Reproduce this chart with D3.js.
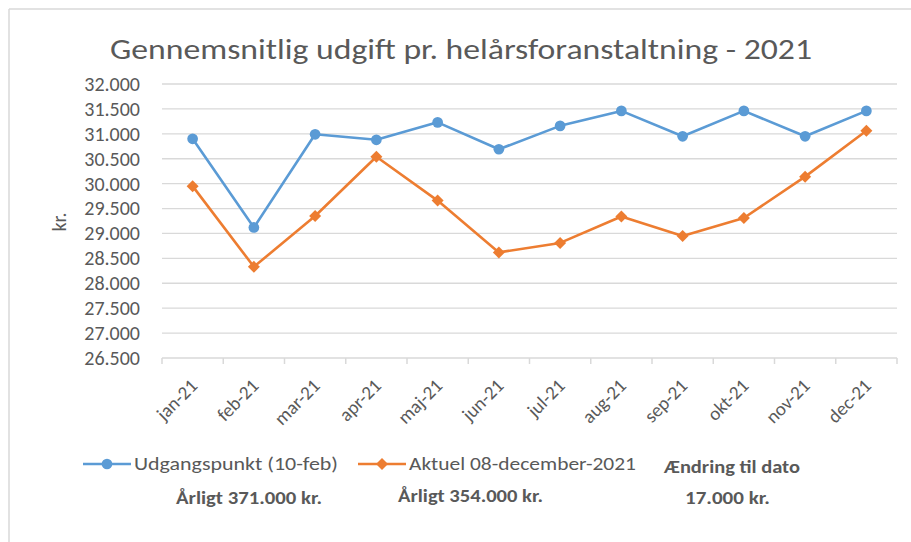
<!DOCTYPE html>
<html>
<head>
<meta charset="utf-8">
<script src="https://cdn.jsdelivr.net/npm/d3@7"></script>
<style>
  html, body { margin: 0; padding: 0; background: #fff; }
  svg { display: block; }
  text { font-family: Carlito, Lato, "Open Sans", sans-serif; }
</style>
</head>
<body>
<svg id="chart" width="911" height="542"></svg>
<script>
const months = ["jan-21","feb-21","mar-21","apr-21","maj-21","jun-21","jul-21","aug-21","sep-21","okt-21","nov-21","dec-21"];
const udgangspunkt = [30900, 29120, 30990, 30880, 31230, 30690, 31160, 31460, 30950, 31460, 30950, 31460];
const aktuel = [29950, 28330, 29350, 30540, 29660, 28620, 28810, 29340, 28950, 29310, 30140, 31060];
const yTicks = [26500, 27000, 27500, 28000, 28500, 29000, 29500, 30000, 30500, 31000, 31500, 32000];
const seriesNames = ["Udgangspunkt (10-feb)", "Aktuel 08-december-2021"];
const title = "Gennemsnitlig udgift pr. helårsforanstaltning - 2021";
const yLabel = "kr.";
const annualLabels = ["Årligt 371.000 kr.", "Årligt 354.000 kr."];
const changeLabels = ["Ændring til dato", "17.000 kr."];

const svg = d3.select("#chart");
const blue = "#5B9BD5", orange = "#ED7D31", textCol = "#595959", grid = "#d9d9d9";

// frame
svg.append("line").attr("x1", 9).attr("x2", 911).attr("y1", 9).attr("y2", 9).attr("stroke", "#d9d9d9").attr("stroke-width", 1.5);
svg.append("line").attr("x1", 9).attr("x2", 9).attr("y1", 9).attr("y2", 542).attr("stroke", "#d9d9d9").attr("stroke-width", 1.5);

const x = d3.scaleBand().domain(months).range([162, 897]).padding(0);
const y = d3.scaleLinear().domain([26500, 32000]).range([358, 84]);

// title
svg.append("text").attr("x", 461).attr("y", 59).attr("text-anchor", "middle")
  .attr("font-size", 29).attr("fill", textCol).attr("font-weight", 300)
  .attr("textLength", 702).attr("lengthAdjust", "spacingAndGlyphs")
  .text(title);

// gridlines
svg.append("g").selectAll("line").data(yTicks.filter(d => d > 26500)).join("line")
  .attr("x1", 162).attr("x2", 897)
  .attr("y1", d => y(d)).attr("y2", d => y(d))
  .attr("stroke", grid).attr("stroke-width", 1.3);

// y axis labels
const yAxis = d3.axisLeft(y).tickValues(yTicks).tickSize(0).tickPadding(0)
  .tickFormat(d => d3.format(",")(d).replace(/,/g, "."));
const gy = svg.append("g").attr("transform", "translate(140,0)").call(yAxis);
gy.select(".domain").remove();
gy.selectAll("text").attr("font-size", 20).attr("fill", textCol).attr("font-family", "Carlito, Lato, sans-serif");

// x axis
const gx = svg.append("g").attr("transform", "translate(0,358)");
gx.append("line").attr("x1", 162).attr("x2", 897).attr("stroke", grid).attr("stroke-width", 1.5);
const edges = months.map(m => x(m)).concat([x(months[months.length - 1]) + x.bandwidth()]);
gx.selectAll("line.tick").data(edges).join("line").attr("class", "tick")
  .attr("x1", d => d).attr("x2", d => d).attr("y1", 0).attr("y2", 6)
  .attr("stroke", grid).attr("stroke-width", 1.5);
gx.selectAll("text").data(months).join("text")
  .attr("transform", d => `translate(${x(d) + x.bandwidth() / 2 + 6},${29}) rotate(-45)`)
  .attr("text-anchor", "end").attr("font-size", 19).attr("fill", textCol)
  .text(d => d);

// y label
svg.append("text").attr("transform", "translate(66,222) rotate(-90)")
  .attr("text-anchor", "middle").attr("font-size", 20).attr("fill", textCol).text(yLabel);

const cx = d => x(d) + x.bandwidth() / 2;
const line = d3.line().x((d, i) => cx(months[i])).y(d => y(d));

svg.append("path").datum(udgangspunkt).attr("d", line).attr("fill", "none")
  .attr("stroke", blue).attr("stroke-width", 2.6).attr("stroke-linejoin", "round");
svg.append("path").datum(aktuel).attr("d", line).attr("fill", "none")
  .attr("stroke", orange).attr("stroke-width", 2.6).attr("stroke-linejoin", "round");

const circle = d3.symbol().type(d3.symbolCircle).size(90);
const diamond = d3.symbol().type(d3.symbolSquare).size(72);
svg.append("g").selectAll("path").data(udgangspunkt).join("path")
  .attr("d", circle).attr("transform", (d, i) => `translate(${cx(months[i])},${y(d)})`).attr("fill", blue);
svg.append("g").selectAll("path").data(aktuel).join("path")
  .attr("d", diamond).attr("transform", (d, i) => `translate(${cx(months[i])},${y(d)}) rotate(45)`).attr("fill", orange);

// legend
const legend = [
  { name: seriesNames[0], color: blue, sym: circle, rot: 0, x0: 83, tx: 134, tw: 204 },
  { name: seriesNames[1], color: orange, sym: diamond, rot: 45, x0: 358, tx: 409, tw: 227 }
];
legend.forEach(l => {
  svg.append("line").attr("x1", l.x0).attr("x2", l.x0 + 48).attr("y1", 464).attr("y2", 464)
    .attr("stroke", l.color).attr("stroke-width", 2.6);
  svg.append("path").attr("d", l.sym).attr("transform", `translate(${l.x0 + 24},464) rotate(${l.rot})`).attr("fill", l.color);
  svg.append("text").attr("x", l.tx).attr("y", 470).attr("font-size", 19).attr("fill", textCol)
    .attr("textLength", l.tw).attr("lengthAdjust", "spacingAndGlyphs").text(l.name);
});
svg.append("text").attr("x", 664).attr("y", 473).attr("font-size", 19).attr("fill", textCol).attr("font-weight", 700)
  .attr("textLength", 136).attr("lengthAdjust", "spacingAndGlyphs").text(changeLabels[0]);
svg.append("text").attr("x", 685).attr("y", 504).attr("font-size", 19).attr("fill", textCol).attr("font-weight", 700)
  .attr("textLength", 85).attr("lengthAdjust", "spacingAndGlyphs").text(changeLabels[1]);
svg.append("text").attr("x", 176).attr("y", 504).attr("font-size", 19).attr("fill", textCol).attr("font-weight", 700)
  .attr("textLength", 146).attr("lengthAdjust", "spacingAndGlyphs").text(annualLabels[0]);
svg.append("text").attr("x", 398).attr("y", 502).attr("font-size", 19).attr("fill", textCol).attr("font-weight", 700)
  .attr("textLength", 145).attr("lengthAdjust", "spacingAndGlyphs").text(annualLabels[1]);
</script>
</body>
</html>
